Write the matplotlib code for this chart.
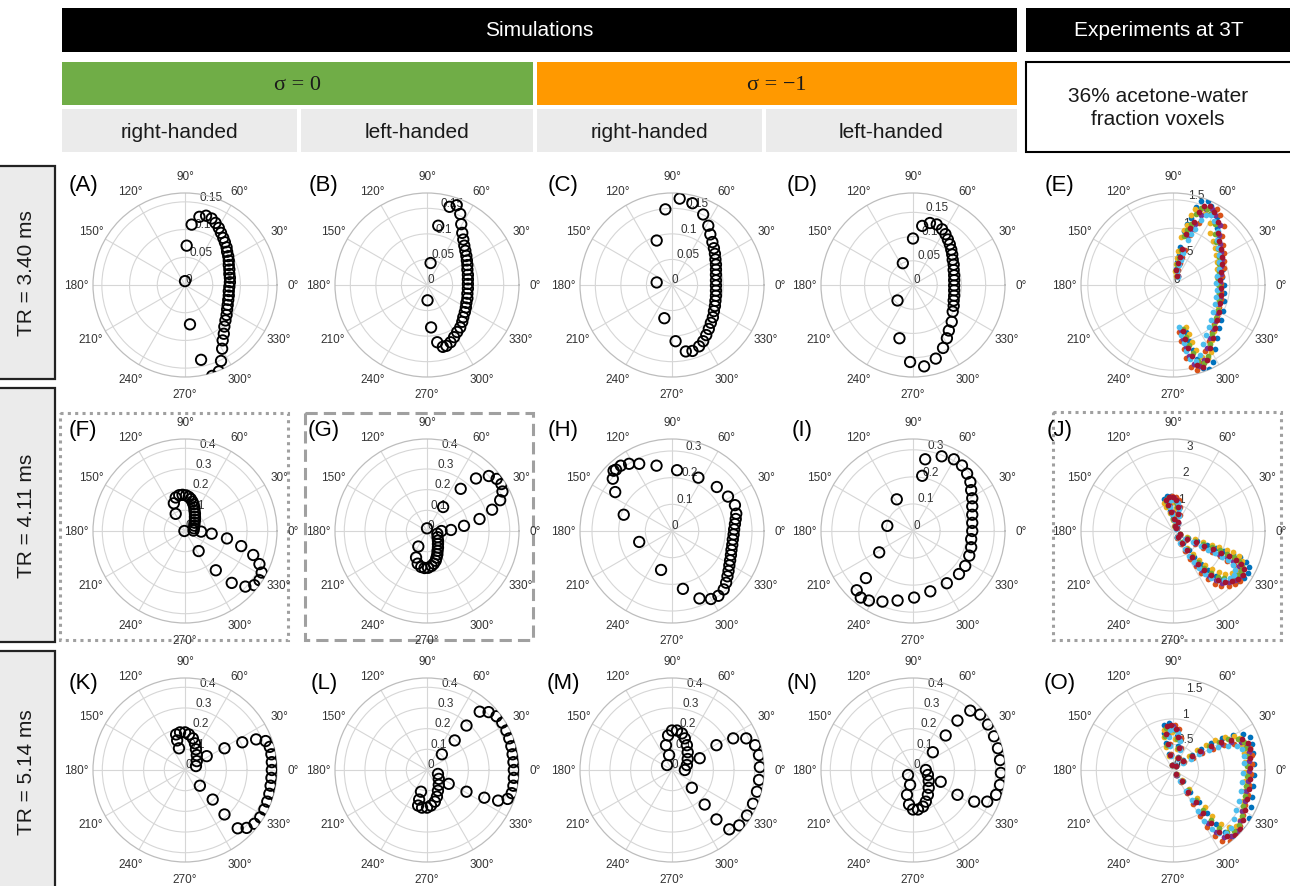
import numpy as np
import matplotlib
matplotlib.use("Agg")
import matplotlib.pyplot as plt
from matplotlib.patches import Rectangle

plt.rcParams['font.family'] = ['Liberation Sans', 'DejaVu Sans']

# ---------------- header texts ----------------
top_titles = ["Simulations", "Experiments at 3T"]
sigma_labels = ["\u03c3 = 0", "\u03c3 = \u22121"]
hand_labels = ["right-handed", "left-handed", "right-handed", "left-handed"]
exp_label = "36% acetone-water\nfraction voxels"
row_labels = ["TR = 3.40 ms", "TR = 4.11 ms", "TR = 5.14 ms"]

# ---------------- simulated transverse magnetisation (units of 1e-3 M0) ----------------
A_mx = [0, 3, 12, 26, 38, 48, 55, 61, 65, 69, 72, 75, 76, 78, 79, 79, 80, 80, 81, 81, 80, 79, 79, 78, 77, 76, 75, 73, 71, 70, 68, 67, 65, 61, 49, 29, 9]
A_my = [7, 71, 109, 123, 125, 120, 112, 103, 94, 85, 77, 68, 60, 52, 44, 36, 28, 20, 13, 5, -3, -11, -19, -27, -36, -44, -54, -64, -75, -88, -100, -115, -137, -156, -164, -135, -71]

B_mx = [7, 1, 8, 22, 44, 58, 65, 67, 69, 71, 73, 75, 77, 78, 79, 79, 80, 80, 80, 80, 79, 79, 77, 76, 74, 71, 69, 65, 59, 53, 46, 38, 31, 20]
B_my = [43, -30, -83, 116, 153, 156, 139, 119, 102, 89, 77, 67, 57, 48, 39, 30, 20, 11, 2, -7, -17, -26, -35, -44, -53, -63, -72, -83, -92, -102, -112, -119, -121, -112]

C_mx = [-30, -30, -13, 15, 40, 61, 71, 75, 79, 82, 84, 85, 86, 86, 86, 86, 86, 86, 86, 85, 84, 82, 80, 76, 72, 67, 61, 53, 40, 27, 7, -15]
C_my = [5, 87, 148, 169, 160, 138, 116, 99, 84, 72, 61, 50, 40, 30, 20, 9, -1, -11, -21, -31, -41, -51, -63, -74, -86, -98, -110, -120, -129, -130, -110, -65]

D_mx = [-32, -21, 0, 19, 35, 49, 60, 67, 72, 76, 79, 81, 82, 84, 84, 85, 85, 85, 85, 85, 84, 84, 82, 80, 74, 70, 62, 47, 23, -6, -28]
D_my = [-32, 45, 96, 122, 128, 125, 115, 105, 94, 84, 73, 63, 52, 42, 31, 20, 10, -1, -11, -22, -32, -43, -55, -76, -94, -110, -130, -152, -168, -159, -110]

F_mx = [-3, 78, 129, 203, 272, 330, 360, 371, 360, 335, 292, 226, 149, 66, -45, -54, -45, -28, -12, 5, 18, 28, 36, 41, 45, 46, 48, 48, 48, 46, 45, 43, 41]
F_my = [0, -3, -13, -36, -73, -116, -160, -201, -238, -262, -269, -251, -190, -97, 83, 134, 162, 173, 175, 172, 165, 155, 142, 129, 114, 99, 84, 69, 54, 40, 26, 13, 2]

G_mx = [0, 70, 116, 179, 254, 315, 354, 365, 360, 337, 299, 237, 163, 78, -42, -53, -45, -28, -12, 5, 22, 33, 42, 46, 50, 51, 53, 53, 53, 51, 50]
G_my = [13, 0, 5, 25, 58, 103, 149, 191, 227, 252, 266, 254, 204, 116, -75, -128, -158, -174, -179, -178, -169, -158, -144, -129, -113, -96, -80, -63, -46, -30, -13]

H_mx = [-219, -222, -213, -181, -123, -41, 41, 103, 146, 174, 194, 203, 208, 212, 215, 218, 221, 223, 226, 228, 231, 233, 236, 239, 241, 236, 210, 168, 99, 19, -58, -123, -161, -192, -210]
H_my = [226, 196, 146, 61, -41, -146, -217, -253, -255, -243, -219, -194, -170, -150, -129, -110, -90, -71, -52, -32, -13, 6, 26, 45, 65, 97, 129, 165, 200, 228, 245, 252, 252, 245, 230]

I_mx = [34, 45, 106, 151, 181, 200, 212, 215, 219, 219, 219, 219, 219, 215, 215, 208, 193, 170, 125, 64, 4, -57, -113, -163, -193, -208, -174, -125, -95, -60]
I_my = [204, 265, 276, 265, 242, 212, 181, 151, 121, 91, 60, 30, 0, -30, -60, -91, -129, -159, -193, -223, -246, -257, -261, -257, -246, -219, -174, -79, 19, 117]

K_mx = [-38, -43, -24, 0, 19, 38, 48, 53, 57, 57, 53, -29, 105, 191, 277, 344, 390, 410, 418, 420, 420, 418, 414, 408, 398, 384, 364, 336, 298, 255, 191, 134, 72]
K_my = [143, 172, 182, 182, 172, 153, 129, 100, 72, 43, 19, 105, 67, 105, 134, 148, 140, 112, 76, 38, 0, -38, -76, -115, -153, -191, -229, -260, -280, -282, -215, -143, -76]

L_mx = [-38, -43, -24, 0, 19, 38, 48, 53, 57, 57, 53, -29, 105, 191, 277, 344, 390, 410, 418, 420, 420, 418, 414, 408, 398, 384, 364, 336, 298, 255, 191, 134, 72]
L_my = [-143, -172, -182, -182, -172, -153, -129, -100, -72, -43, -19, -105, -67, -105, -134, -148, -140, -112, -76, -38, 0, 38, 76, 115, 153, 191, 229, 260, 280, 282, 215, 143, 76]

M_mx = [-29, -19, 0, 24, 48, 62, 72, 76, 76, 72, 62, -14, -24, 134, 215, 296, 359, 402, 421, 425, 421, 411, 392, 363, 325, 277, 215, 158, 96]
M_my = [120, 167, 191, 191, 177, 153, 120, 86, 53, 24, 0, 72, 24, 57, 120, 153, 153, 120, 72, 14, -48, -105, -163, -220, -268, -287, -239, -167, -86]

N_mx = [-29, -19, 0, 24, 48, 62, 72, 76, 76, 72, 62, -14, -24, 134, 215, 296, 359, 402, 421, 425, 421, 411, 392, 363, 325, 277, 215, 158, 96]
N_my = [-120, -167, -191, -191, -177, -153, -120, -86, -53, -24, 0, -72, -24, -57, -120, -153, -153, -120, -72, -14, 48, 105, 163, 220, 268, 287, 239, 167, 86]

# ---------------- experimental trajectories (a.u.) ----------------
E_mx = [0.077, 0.059, 0.089, 0.119, 0.154, 0.225, 0.285, 0.356, 0.445, 0.534, 0.640, 0.700, 0.783, 0.771, 0.801, 0.830, 0.842, 0.842, 0.830, 0.818, 0.830, 0.830, 0.818, 0.795, 0.759, 0.723, 0.682, 0.640, 0.593, 0.522, 0.415, 0.326, 0.267, 0.208, 0.166]
E_my = [0.160, 0.261, 0.380, 0.486, 0.617, 0.872, 0.990, 1.091, 1.257, 1.364, 1.358, 1.257, 1.079, 0.901, 0.753, 0.617, 0.486, 0.356, 0.219, 0.083, -0.047, -0.178, -0.314, -0.463, -0.611, -0.747, -0.907, -1.085, -1.293, -1.411, -1.382, -1.233, -1.085, -0.937, -0.789]

J_mx = [0.064, 0.026, -0.064, -0.179, -0.256, -0.153, 0.0, 0.128, 0.192, 0.192, 0.166, 0.128, 0.256, 0.511, 0.831, 1.150, 1.470, 1.764, 2.045, 2.300, 2.505, 2.607, 2.556, 2.403, 2.173, 1.917, 1.661, 1.406, 1.150, 0.920, 0.703, 0.511, 0.320, 0.166]
J_my = [0.192, 0.447, 0.703, 0.959, 1.150, 1.252, 1.240, 1.125, 0.895, 0.613, 0.320, 0.102, -0.128, -0.281, -0.409, -0.537, -0.665, -0.792, -0.920, -1.048, -1.214, -1.406, -1.610, -1.764, -1.853, -1.866, -1.789, -1.636, -1.431, -1.214, -0.959, -0.703, -0.447, -0.230]

O_mx = [-0.013, -0.053, -0.099, -0.132, -0.119, -0.033, 0.053, 0.099, 0.119, 0.099, 0.053, 0.198, 0.362, 0.527, 0.725, 0.923, 1.120, 1.318, 1.430, 1.470, 1.483, 1.483, 1.470, 1.450, 1.423, 1.384, 1.344, 1.285, 1.186, 1.041, 0.890, 0.725, 0.580, 0.435, 0.297, 0.165, 0.066]
O_my = [0.099, 0.297, 0.494, 0.692, 0.837, 0.857, 0.791, 0.626, 0.428, 0.231, 0.086, 0.165, 0.264, 0.362, 0.461, 0.540, 0.580, 0.587, 0.527, 0.395, 0.231, 0.033, -0.165, -0.362, -0.560, -0.758, -0.956, -1.140, -1.252, -1.272, -1.186, -1.021, -0.824, -0.613, -0.415, -0.217, -0.086]

# per-voxel signal gain and phase offset (estimated spread of the 7 voxels)
voxel_gain = [1.07, 1.03, 0.95, 1.00, 0.98, 0.93, 1.02]
voxel_phase_deg = [3.0, -4.5, 5.0, -2.0, 1.5, -3.5, 0.0]
voxel_colors = ['#0072BD', '#D95319', '#EDB120', '#7E2F8E', '#77AC30', '#4DBEEE', '#A2142F']

# ---------------- panel table ----------------
panels = [
    ("A", A_mx, A_my, 1e-3, 0.166, [0, 0.05, 0.1, 0.15], ["0", "0.05", "0.1", "0.15"], 0, 0, "sim"),
    ("B", B_mx, B_my, 1e-3, 0.18, [0, 0.05, 0.1, 0.15], ["0", "0.05", "0.1", "0.15"], 1, 0, "sim"),
    ("C", C_mx, C_my, 1e-3, 0.18, [0, 0.05, 0.1, 0.15], ["0", "0.05", "0.1", "0.15"], 2, 0, "sim"),
    ("D", D_mx, D_my, 1e-3, 0.19, [0, 0.05, 0.1, 0.15], ["0", "0.05", "0.1", "0.15"], 3, 0, "sim"),
    ("E", E_mx, E_my, 1.0, 1.62, [0, 0.5, 1, 1.5], ["0", "0.5", "1", "1.5"], 4, 0, "exp"),
    ("F", F_mx, F_my, 1e-3, 0.445, [0, 0.1, 0.2, 0.3, 0.4], ["0", "0.1", "0.2", "0.3", "0.4"], 0, 1, "sim"),
    ("G", G_mx, G_my, 1e-3, 0.445, [0, 0.1, 0.2, 0.3, 0.4], ["0", "0.1", "0.2", "0.3", "0.4"], 1, 1, "sim"),
    ("H", H_mx, H_my, 1e-3, 0.345, [0, 0.1, 0.2, 0.3], ["0", "0.1", "0.2", "0.3"], 2, 1, "sim"),
    ("I", I_mx, I_my, 1e-3, 0.34, [0, 0.1, 0.2, 0.3], ["0", "0.1", "0.2", "0.3"], 3, 1, "sim"),
    ("J", J_mx, J_my, 1.0, 3.45, [0, 1, 2, 3], ["0", "1", "2", "3"], 4, 1, "exp"),
    ("K", K_mx, K_my, 1e-3, 0.445, [0, 0.1, 0.2, 0.3, 0.4], ["0", "0.1", "0.2", "0.3", "0.4"], 0, 2, "sim"),
    ("L", L_mx, L_my, 1e-3, 0.445, [0, 0.1, 0.2, 0.3, 0.4], ["0", "0.1", "0.2", "0.3", "0.4"], 1, 2, "sim"),
    ("M", M_mx, M_my, 1e-3, 0.445, [0, 0.1, 0.2, 0.3, 0.4], ["0", "0.1", "0.2", "0.3", "0.4"], 2, 2, "sim"),
    ("N", N_mx, N_my, 1e-3, 0.445, [0, 0.1, 0.2, 0.3, 0.4], ["0", "0.1", "0.2", "0.3", "0.4"], 3, 2, "sim"),
    ("O", O_mx, O_my, 1.0, 1.8, [0, 0.5, 1, 1.5], ["0", "0.5", "1", "1.5"], 4, 2, "exp"),
]

# ---------------- layout (pixels) ----------------
W, H = 1290, 887
COL_X = [185, 427, 672, 913, 1173]
ROW_Y = [286, 532, 771]
R_PX = 92
LETTER_X = [83, 324, 563, 802, 1060]
LETTER_Y = [185, 431, 684]

fig = plt.figure(figsize=(W / 100, H / 100), dpi=100)
bg = fig.add_axes([0, 0, 1, 1], zorder=0)
bg.set_xlim(0, W)
bg.set_ylim(H, 0)
bg.axis('off')


def rect(x0, y0, x1, y1, fc, ec='none', lw=0.0, ls='-'):
    bg.add_patch(Rectangle((x0, y0), x1 - x0, y1 - y0, facecolor=fc,
                           edgecolor=ec, lw=lw, ls=ls))


# header bars
rect(62, 9, 1017, 53, 'black')
bg.text((62 + 1017) / 2, 31, top_titles[0], color='white', fontsize=15, ha='center', va='center')
rect(1026, 9, 1292, 53, 'black')
bg.text(1159, 31, top_titles[1], color='white', fontsize=15, ha='center', va='center')

rect(62, 63, 533, 106, '#70AD47')
bg.text((62 + 533) / 2, 85, sigma_labels[0], fontsize=16, ha='center', va='center',
        color='#1a1a1a', family=['Liberation Serif', 'DejaVu Serif'])
rect(537, 63, 1017, 106, '#FF9900')
bg.text((537 + 1017) / 2, 85, sigma_labels[1], fontsize=16, ha='center', va='center',
        color='#1a1a1a', family=['Liberation Serif', 'DejaVu Serif'])

cells = [(62, 297), (301, 533), (537, 762), (766, 1017)]
for (x0, x1), lab in zip(cells, hand_labels):
    rect(x0, 110, x1, 153, '#EBEBEB')
    bg.text((x0 + x1) / 2, 132, lab, fontsize=15, ha='center', va='center', color='#1a1a1a')

rect(1026, 63, 1300, 153, 'white', ec='black', lw=1.5)
bg.text(1158, 108, exp_label, fontsize=15, ha='center', va='center',
        color='#1a1a1a', linespacing=1.25)

# row label boxes
row_boxes = [(167, 380), (389, 643), (652, 892)]
for (y0, y1), lab in zip(row_boxes, row_labels):
    rect(-5, y0, 55, y1, '#EBEBEB', ec='#222222', lw=1.6)
    bg.text(27, (y0 + y1) / 2, lab, fontsize=15, rotation=90, ha='center', va='center',
            color='#1a1a1a')

# highlight frames around F, G, J
rect(60, 414, 288, 641, 'none', ec='#A0A0A0', lw=2.2, ls=(0, (1, 1.4)))
rect(305, 414, 533, 641, 'none', ec='#A0A0A0', lw=2.2, ls=(0, (4, 2)))
rect(1053, 413, 1281, 641, 'none', ec='#A0A0A0', lw=2.2, ls=(0, (1, 1.4)))

theta_deg = np.arange(0, 360, 30)

for (let, mx, my, unit, rmax, rticks, rlabels, col, row, kind) in panels:
    cx, cy = COL_X[col], ROW_Y[row]
    ax = fig.add_axes([(cx - R_PX) / W, 1 - (cy + R_PX) / H, 2 * R_PX / W, 2 * R_PX / H],
                      projection='polar', zorder=2)
    ax.set_facecolor('white')
    mx = np.asarray(mx, float) * unit
    my = np.asarray(my, float) * unit
    if kind == "sim":
        ax.scatter(np.arctan2(my, mx), np.hypot(mx, my), s=56, facecolors='none',
                   edgecolors='black', linewidths=1.35, zorder=3)
    else:
        for g, ph, c in zip(voxel_gain, voxel_phase_deg, voxel_colors):
            ax.scatter(np.arctan2(my, mx) + np.deg2rad(ph), np.hypot(mx, my) * g,
                       s=17, color=c, linewidths=0, zorder=3)
    ax.set_ylim(0, rmax)
    ax.set_yticks(rticks)
    ax.set_yticklabels(rlabels)
    ax.set_rlabel_position(80)
    ax.set_xticks(np.deg2rad(theta_deg))
    ax.set_xticklabels([f"{d}\u00b0" for d in theta_deg])
    ax.grid(True, color='#D6D6D6', lw=0.8)
    ax.spines['polar'].set_color('#BDBDBD')
    ax.spines['polar'].set_linewidth(0.9)
    ax.tick_params(axis='x', labelsize=8.5, pad=1.5, colors='#333333')
    ax.tick_params(axis='y', labelsize=8.5, colors='#333333')
    bg.text(LETTER_X[col], LETTER_Y[row], f"({let})", fontsize=16, ha='center', va='center',
            color='black')

fig.savefig("out.png", dpi=100)
